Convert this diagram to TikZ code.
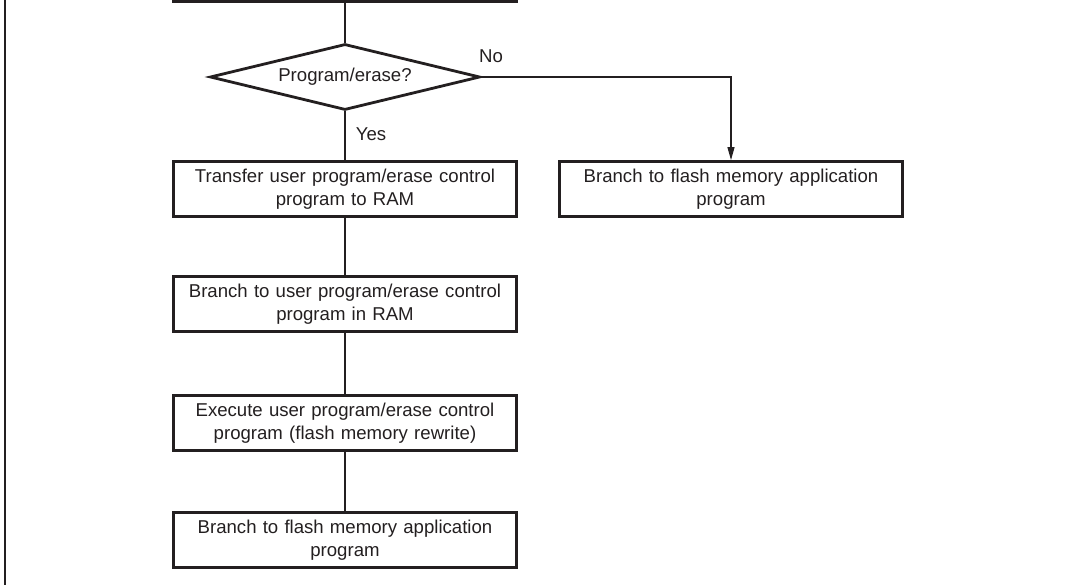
\documentclass[tikz,border=0pt]{standalone}
\usepackage{fontspec}
\setmainfont{Liberation Sans}
\usetikzlibrary{shapes.geometric,arrows.meta}
\definecolor{ink}{HTML}{231F20}
\begin{document}
\begin{tikzpicture}[x=1pt,y=-1pt,
  txt/.style={font=\fontsize{18.6pt}{23.5pt}\selectfont, text=ink},
  box/.style={draw=ink, line width=2.8pt, minimum width=343pt, minimum height=55pt,
    text width=330pt, align=center, inner sep=0pt, txt},
  decision/.style={draw=ink, line width=2.8pt, diamond, aspect=4, inner sep=0pt,
    minimum width=270pt, minimum height=66pt, txt},
  conn/.style={draw=ink, line width=1.1pt},
  lbl/.style={txt, inner sep=0pt}]
\useasboundingbox (0,0) rectangle (1066,585);
\clip (0,0) rectangle (1066,585);
\draw[ink, line width=2.6pt] (5,0) -- (5,585);

\node[box] (top) at (345,-26) {};
\node[decision] (dec) at (345,77) {Program/erase?};
\node[box] (b1) at (345,189) {Transfer user program/erase control\\program to RAM};
\node[box] (b2) at (345,304) {Branch to user program/erase control\\program in RAM};
\node[box] (b3) at (345,423) {Execute user program/erase control\\program (flash memory rewrite)};
\node[box] (b4) at (345,540) {Branch to flash memory application\\program};
\node[box] (r1) at (731,189) {Branch to flash memory application\\program};

\coordinate (corner) at (r1.north |- dec.east);
\draw[conn] (top.south) -- (dec.north);
\draw[conn] (dec.south) -- (b1.north);
\draw[conn] (b1.south) -- (b2.north);
\draw[conn] (b2.south) -- (b3.north);
\draw[conn] (b3.south) -- (b4.north);
\draw[conn, -{Triangle[length=13pt,width=7pt]}] (dec.east) -- (corner) -- (r1.north);

\node[lbl] (no) at (491,56) {No};
\node[lbl] (yes) at (371,134) {Yes};
\end{tikzpicture}
\end{document}
